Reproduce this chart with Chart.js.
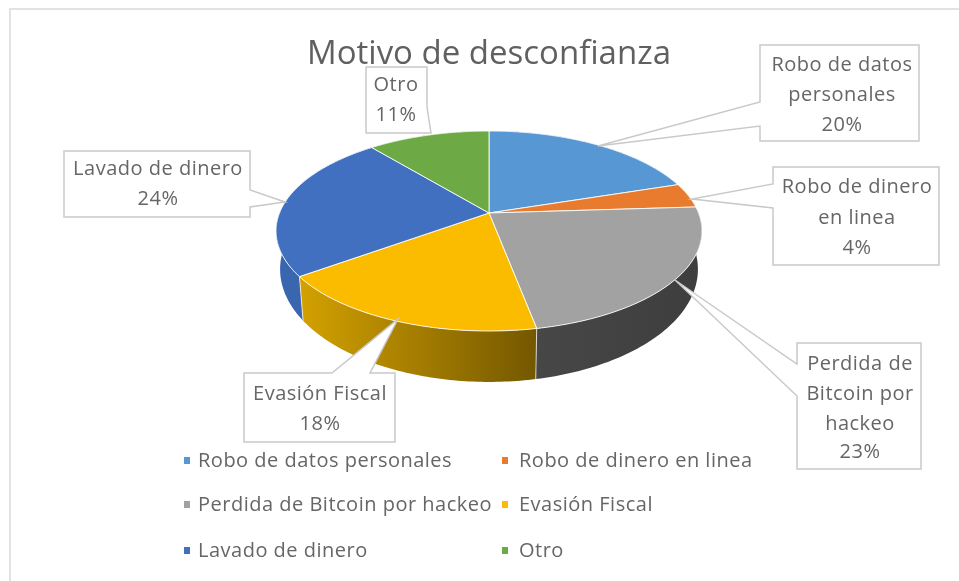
<!DOCTYPE html>
<html lang="es">
<head>
<meta charset="utf-8">
<title>Motivo de desconfianza</title>
<script src="https://cdn.jsdelivr.net/npm/chart.js@4"></script>
<style>
html,body{margin:0;padding:0;background:#fff;overflow:hidden}
canvas{display:block;filter:blur(0.45px)}
</style>
</head>
<body>
<canvas id="c" width="959" height="581"></canvas>
<script>
const titleText = 'Motivo de desconfianza';
const categories = ['Robo de datos personales','Robo de dinero en linea','Perdida de Bitcoin por hackeo','Evasión Fiscal','Lavado de dinero','Otro'];
const values = [20,4,23,18,24,11];
const calloutText = [['Robo de datos','personales'],['Robo de dinero','en linea'],['Perdida de','Bitcoin por','hackeo'],['Evasión Fiscal'],['Lavado de dinero'],['Otro']];
const topColors = ['#5797D3','#E97B2F','#A2A2A2','#FBBC00','#4170C0','#6DAA45'];
const sideColors = [['#3F72A0','#3F72A0'],['#B05C22','#B05C22'],['#474747','#3E3E3E'],['#D2A000','#745800'],['#3A66B0','#2F5597'],['#52803A','#52803A']];

// callout boxes: [left, top, right, bottom], wedge points, centre x, line centre ys
const callouts = [
  {box:[760,45,919,141], wedge:[[760,102],[598,146],[760,126]], side:'left',  cx:842, ys:[64,94,124]},
  {box:[773,167,939,265],wedge:[[773,184],[692,199],[773,208]], side:'left',  cx:857, ys:[186,217,247]},
  {box:[797,343,921,469],wedge:[[797,364],[675,280],[797,396]], side:'left',  cx:860, ys:[363,393,423,451]},
  {box:[244,373,395,442],wedge:[[332,373],[398,319],[370,373]], side:'top',   cx:320, ys:[393,423]},
  {box:[64,151,250,217], wedge:[[250,190],[285,202],[250,207]], side:'right', cx:158, ys:[168,198]},
  {box:[366,67,427,133], wedge:[[427,107],[431,133],[427,133]], side:'right', cx:396, ys:[84,114]}
];
const legendPos = [[184,198,460],[502,519,460],[184,198,504],[502,519,504],[184,198,550],[502,519,550]];

const FONT = '"Open Sans", sans-serif';
const TEXT = '#666666';
const TEXT_DY = 1;
const K = -0.18;
const topDisc = {cx:489, cy:213, rx:209.5, b:96.76};
const botDisc = {cx:489, cy:249, rx:205.5, b:109};

function project(d, a){
  const u = Math.cos(a), v = Math.sin(a), w = 1 + K*v;
  return [d.cx + d.rx*u/w, d.cy + d.b*v/w];
}
function rim(ctx, d, a0, a1, first){
  const n = 72;
  for(let i=0;i<=n;i++){
    const p = project(d, a0+(a1-a0)*i/n);
    if(i===0 && first) ctx.moveTo(p[0],p[1]); else ctx.lineTo(p[0],p[1]);
  }
}

const pie3d = {
  id:'pie3d',
  beforeDatasetDraw(chart){
    const ctx = chart.ctx;
    const arcs = chart.getDatasetMeta(0).data;
    ctx.save();
    // frame
    ctx.strokeStyle = '#E2E2E2'; ctx.lineWidth = 2;
    ctx.beginPath(); ctx.moveTo(10,581); ctx.lineTo(10,9); ctx.lineTo(959,9); ctx.stroke();

    // side wall, back to front
    const order = arcs.map((_,i)=>i).sort((a,b)=>
      Math.sin((arcs[a].startAngle+arcs[a].endAngle)/2)-Math.sin((arcs[b].startAngle+arcs[b].endAngle)/2));
    order.forEach(i=>{
      const a0 = arcs[i].startAngle, a1 = arcs[i].endAngle;
      const pts = [project(botDisc,a0),project(botDisc,a1)];
      const g = ctx.createLinearGradient(Math.min(pts[0][0],pts[1][0]),0,Math.max(pts[0][0],pts[1][0]),0);
      g.addColorStop(0, sideColors[i][0]); g.addColorStop(1, sideColors[i][1]);
      ctx.fillStyle = g;
      ctx.beginPath();
      rim(ctx, topDisc, a0, a1, true);
      rim(ctx, botDisc, a1, a0, false);
      ctx.closePath(); ctx.fill();
    });
    // seams on the visible wall
    ctx.strokeStyle = 'rgba(255,255,255,0.7)'; ctx.lineWidth = 1;
    [arcs[3].startAngle, arcs[3].endAngle].forEach(a=>{
      const p = project(topDisc,a), q = project(botDisc,a);
      ctx.beginPath(); ctx.moveTo(p[0],p[1]); ctx.lineTo(q[0],q[1]); ctx.stroke();
    });
    // top face
    arcs.forEach((arc,i)=>{
      ctx.beginPath();
      ctx.moveTo(topDisc.cx, topDisc.cy);
      rim(ctx, topDisc, arc.startAngle, arc.endAngle, false);
      ctx.closePath();
      ctx.fillStyle = topColors[i]; ctx.fill();
      ctx.strokeStyle = 'rgba(255,255,255,0.85)'; ctx.lineWidth = 1; ctx.stroke();
    });
    ctx.restore();
    return false;
  },
  afterDatasetsDraw(chart){
    const ctx = chart.ctx;
    const total = values.reduce((s,x)=>s+x,0);
    ctx.save();
    ctx.letterSpacing = '0.5px';
    // callouts
    callouts.forEach((c,i)=>{
      const [l,t,r,b] = c.box, w = c.wedge;
      ctx.beginPath();
      ctx.moveTo(l,t);
      if(c.side==='top'){ ctx.lineTo(w[0][0],w[0][1]); ctx.lineTo(w[1][0],w[1][1]); ctx.lineTo(w[2][0],w[2][1]); }
      ctx.lineTo(r,t);
      if(c.side==='right'){ ctx.lineTo(w[0][0],w[0][1]); ctx.lineTo(w[1][0],w[1][1]); ctx.lineTo(w[2][0],w[2][1]); }
      ctx.lineTo(r,b); ctx.lineTo(l,b);
      if(c.side==='left'){ ctx.lineTo(w[2][0],w[2][1]); ctx.lineTo(w[1][0],w[1][1]); ctx.lineTo(w[0][0],w[0][1]); }
      ctx.closePath();
      ctx.fillStyle = '#fff'; ctx.fill();
      ctx.strokeStyle = '#C9C9C9'; ctx.lineWidth = 1.5; ctx.stroke();
      ctx.fillStyle = TEXT; ctx.font = '20px '+FONT;
      ctx.textAlign = 'center'; ctx.textBaseline = 'middle';
      const lines = calloutText[i].concat([Math.round(values[i]/total*100)+'%']);
      lines.forEach((s,k)=>ctx.fillText(s, c.cx, c.ys[k]+TEXT_DY));
    });
    // legend
    ctx.font = '20px '+FONT; ctx.textAlign = 'left'; ctx.textBaseline = 'middle';
    categories.forEach((s,i)=>{
      const [mx,tx,y] = legendPos[i];
      ctx.fillStyle = topColors[i]; ctx.fillRect(mx,y-3,6,7);
      ctx.fillStyle = TEXT; ctx.fillText(s,tx,y+TEXT_DY);
    });
    ctx.restore();
  }
};

new Chart(document.getElementById('c'),{
  type:'pie',
  data:{labels:categories,datasets:[{data:values,backgroundColor:topColors,borderWidth:0}]},
  options:{
    responsive:false,animation:false,
    layout:{padding:{left:19}},
    plugins:{
      legend:{display:false},tooltip:{enabled:false},
      title:{display:true,text:titleText,color:'#606060',
        font:{family:FONT,size:33,weight:'normal',lineHeight:1.2},
        padding:{top:35,bottom:10}}
    }
  },
  plugins:[pie3d]
});
</script>
</body>
</html>
